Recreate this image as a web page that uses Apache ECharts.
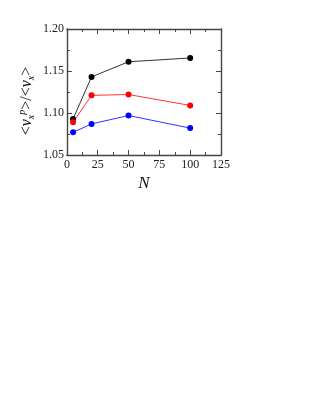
<!DOCTYPE html>
<html><head><meta charset="utf-8">
<script src="https://cdn.jsdelivr.net/npm/echarts@6/dist/echarts.min.js"></script>
<style>html,body{margin:0;padding:0;background:#fff}#c{width:315px;height:407px}</style>
</head><body><div id="c"></div>
<script>
const N = [5, 20, 50, 100];
const blackSeries = [1.093, 1.143, 1.161, 1.1655];
const redSeries = [1.089, 1.121, 1.122, 1.109];
const blueSeries = [1.077, 1.087, 1.097, 1.082];
const xTicks = [0, 25, 50, 75, 100, 125];
const yTicks = [1.05, 1.10, 1.15, 1.20];

const font = 'Liberation Serif';
const frame = '#444';
function pairs(ys){ return N.map((x,i)=>[x, ys[i]]); }
const tickCommon = {show:true, inside:true, length:5, lineStyle:{color:frame, width:1}};
const minorCommon = {show:true, splitNumber:2, length:3, lineStyle:{color:frame, width:1}};
const chart = echarts.init(document.getElementById('c'), null, {renderer:'canvas'});
chart.setOption({
  animation:false,
  grid:{left:62, right:94, top:29, bottom:252},
  xAxis:[{
    type:'value', min:xTicks[0], max:xTicks[xTicks.length-1], interval:25,
    axisLine:{show:true, onZero:false, lineStyle:{color:frame, width:1.4}},
    axisTick:tickCommon, minorTick:minorCommon, splitLine:{show:false},
    axisLabel:{fontFamily:font, fontSize:12, color:'#222', margin:4, showMaxLabel:true},
    name:'N', nameLocation:'middle', nameGap:20,
    nameTextStyle:{fontFamily:font, fontStyle:'italic', fontSize:17, color:'#111'}
  },{
    type:'value', position:'top', min:0, max:125, interval:25,
    axisLine:{show:true, onZero:false, lineStyle:{color:frame, width:1.4}},
    axisTick:tickCommon, minorTick:minorCommon, splitLine:{show:false}, axisLabel:{show:false}
  }],
  yAxis:[{
    type:'value', min:yTicks[0], max:yTicks[yTicks.length-1], interval:0.05,
    axisLine:{show:true, onZero:false, lineStyle:{color:frame, width:1.4}},
    axisTick:tickCommon, minorTick:minorCommon, splitLine:{show:false},
    axisLabel:{fontFamily:font, fontSize:12, color:'#222', margin:3, formatter:v=>v.toFixed(2)},
    name:'<{v|v}{sb|x}{sp|p}>/<{v|v}{sb|x}>', nameLocation:'middle', nameGap:28, nameRotate:90,
    nameTextStyle:{fontFamily:font, fontSize:16, color:'#111', lineHeight:24, padding:[0,18,0,0],
      rich:{
        v:{fontFamily:font, fontStyle:'italic', fontSize:16, color:'#111'},
        sb:{fontFamily:font, fontStyle:'italic', fontSize:10, color:'#111', padding:[8,0,0,0]},
        sp:{fontFamily:font, fontStyle:'italic', fontSize:10, color:'#111', padding:[0,0,10,0]}
      }}
  },{
    type:'value', position:'right', min:1.05, max:1.20, interval:0.05,
    axisLine:{show:true, onZero:false, lineStyle:{color:frame, width:1.4}},
    axisTick:tickCommon, minorTick:minorCommon, splitLine:{show:false}, axisLabel:{show:false}
  }],
  series:[
    {type:'line', data:pairs(blackSeries), symbol:'circle', symbolSize:6, itemStyle:{color:'#000'}, lineStyle:{color:'#333', width:1}},
    {type:'line', data:pairs(redSeries), symbol:'circle', symbolSize:6, itemStyle:{color:'#f00'}, lineStyle:{color:'#f33', width:1}},
    {type:'line', data:pairs(blueSeries), symbol:'circle', symbolSize:6, itemStyle:{color:'#00f'}, lineStyle:{color:'#33f', width:1}}
  ]
});
</script></body></html>
